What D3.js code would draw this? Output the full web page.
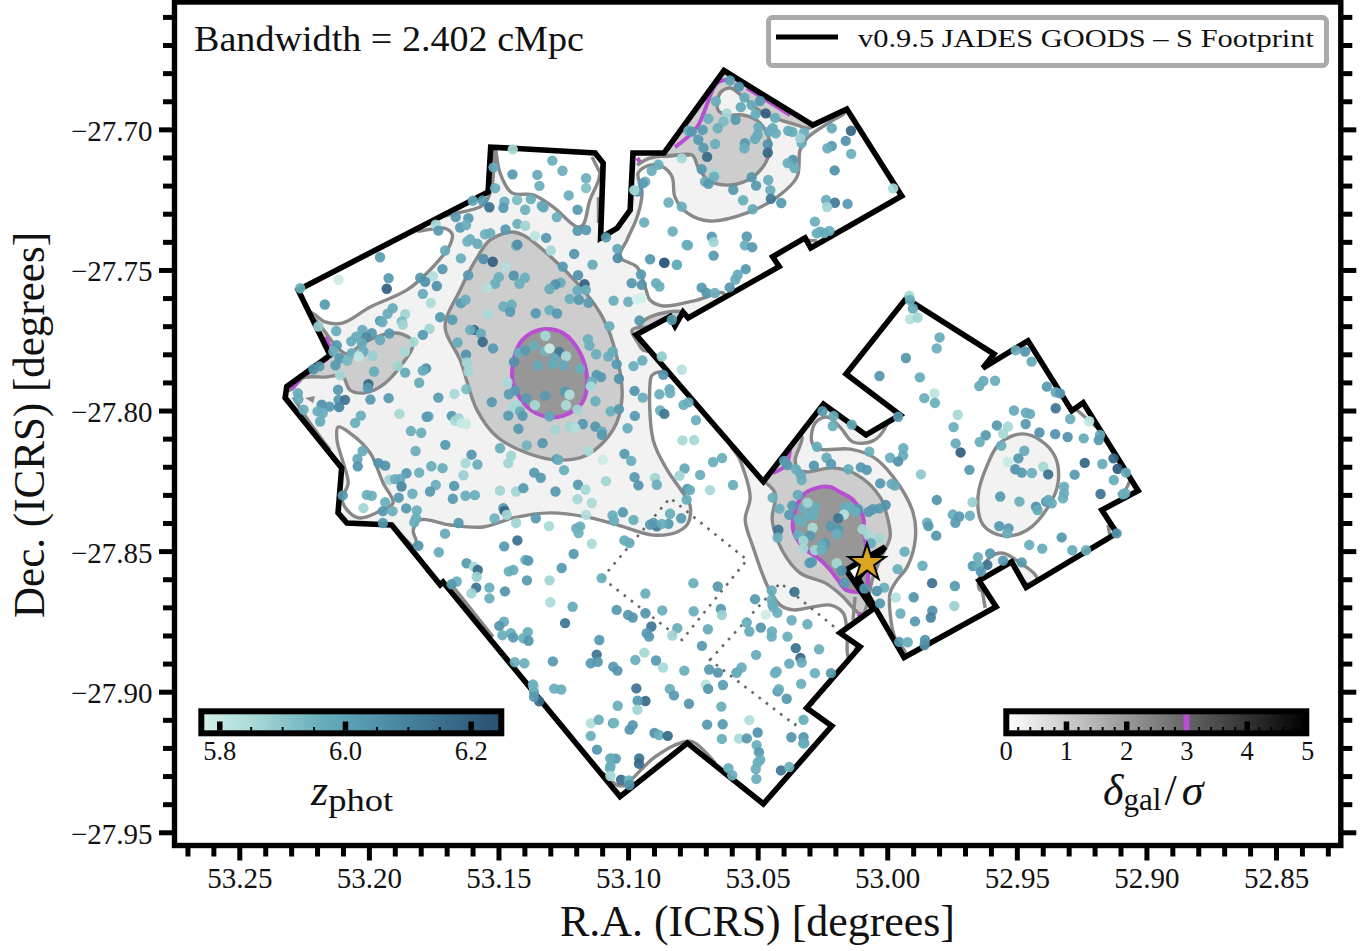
<!DOCTYPE html>
<html><head><meta charset="utf-8">
<script src="https://cdn.jsdelivr.net/npm/d3@7/dist/d3.min.js"></script>
<style>html,body{margin:0;padding:0;background:#fff}svg{display:block}text{font-family:"Liberation Serif",serif;fill:#111}</style>
</head><body><svg id="c" width="1370" height="951"></svg>
<script>
const raMajor=[53.25,53.20,53.15,53.10,53.05,53.00,52.95,52.90,52.85];
const decMajor=[-27.70,-27.75,-27.80,-27.85,-27.90,-27.95];
const zTicks=[5.8,6.0,6.2];
const deltaTicks=[0,1,2,3,4,5];
const zColorStops=[[5.775,"#d4f0ea"],[5.86,"#a6d9d6"],[5.96,"#69aebc"],[6.03,"#5699b0"],[6.13,"#3f7796"],[6.245,"#29506f"]];
const contourFills=["#f2f2f2","#cdcdcd","#979797"];

const footprint=[[53.2273,-27.7571],[53.1540,-27.7223],[53.1530,-27.7063],[53.1127,-27.7084],[53.1096,-27.7120],[53.1106,-27.7386],[53.1042,-27.7351],[53.0992,-27.7287],[53.0981,-27.7084],[53.0861,-27.7084],[53.0630,-27.6791],[53.0287,-27.6985],[53.0156,-27.6928],[52.9944,-27.7237],[53.0295,-27.7422],[53.0317,-27.7386],[53.0442,-27.7453],[53.0417,-27.7488],[53.0768,-27.7671],[53.0788,-27.7650],[53.0819,-27.7699],[53.0838,-27.7666],[53.0969,-27.7731],[53.0478,-27.8253],[53.0246,-27.7977],[53.0082,-27.8087],[52.9950,-27.8016],[53.0159,-27.7870],[52.9927,-27.7601],[52.9588,-27.7799],[52.9631,-27.7849],[52.9457,-27.7752],[52.9288,-27.8001],[52.9244,-27.7972],[52.9032,-27.8285],[52.9172,-27.8354],[52.9114,-27.8436],[52.9464,-27.8629],[52.9520,-27.8538],[52.9646,-27.8605],[52.9580,-27.8698],[52.9935,-27.8878],[53.0113,-27.8596],[53.0008,-27.8485],[53.0159,-27.8567],[53.0055,-27.8706],[53.0182,-27.8791],[53.0105,-27.8840],[53.0311,-27.9058],[53.0214,-27.9122],[53.0478,-27.9399],[53.0771,-27.9183],[53.1031,-27.9373],[53.1714,-27.8610],[53.1725,-27.8620],[53.1912,-27.8407],[53.2085,-27.8400],[53.2119,-27.8364],[53.2105,-27.8204],[53.2323,-27.7955],[53.2317,-27.7915],[53.2150,-27.7803]];

const lightMain=[[53.2219,-27.7653],[53.2169,-27.7685],[53.2103,-27.7689],[53.1995,-27.7632],[53.1853,-27.7571],[53.1764,-27.7500],[53.1687,-27.7411],[53.1679,-27.7372],[53.1710,-27.7351],[53.1814,-27.7361],[53.1718,-27.7312],[53.1559,-27.7269],[53.1529,-27.7216],[53.1517,-27.7127],[53.1513,-27.7066],[53.1494,-27.7155],[53.1448,-27.7226],[53.1366,-27.7233],[53.1289,-27.7276],[53.1197,-27.7347],[53.1174,-27.7340],[53.1147,-27.7251],[53.1116,-27.7187],[53.1096,-27.7127],[53.1062,-27.7127],[53.1039,-27.7073],[53.0954,-27.7020],[53.0722,-27.6753],[53.0221,-27.6878],[53.0163,-27.6938],[53.0209,-27.6967],[53.0309,-27.7031],[53.0336,-27.7073],[53.0348,-27.7169],[53.0425,-27.7241],[53.0541,-27.7297],[53.0684,-27.7326],[53.0772,-27.7297],[53.0819,-27.7241],[53.0830,-27.7169],[53.0865,-27.7134],[53.0915,-27.7127],[53.0961,-27.7155],[53.0946,-27.7226],[53.0965,-27.7312],[53.1004,-27.7393],[53.1031,-27.7454],[53.0965,-27.7490],[53.0934,-27.7561],[53.0915,-27.7607],[53.0865,-27.7628],[53.0734,-27.7607],[53.0633,-27.7582],[53.0626,-27.7625],[53.0761,-27.7714],[53.0876,-27.7749],[53.0761,-27.7874],[53.0772,-27.7916],[53.0865,-27.7863],[53.0907,-27.7874],[53.0915,-27.7902],[53.0903,-27.8105],[53.0849,-27.8211],[53.0788,-27.8293],[53.0761,-27.8336],[53.0768,-27.8400],[53.0811,-27.8432],[53.0903,-27.8443],[53.1042,-27.8407],[53.1158,-27.8379],[53.1301,-27.8364],[53.1444,-27.8382],[53.1559,-27.8414],[53.1687,-27.8407],[53.1802,-27.8389],[53.1829,-27.8425],[53.1818,-27.8471],[53.1860,-27.8489],[53.1995,-27.8460],[53.2150,-27.8389],[53.2362,-27.7962],[53.2362,-27.7891],[53.2265,-27.7642]];
const lightEast=[[53.0008,-27.8062],[53.0055,-27.8108],[53.0132,-27.8112],[53.0182,-27.8059],[53.0232,-27.8023],[53.0278,-27.8044],[53.0290,-27.8115],[53.0259,-27.8137],[53.0143,-27.8137],[53.0055,-27.8165],[52.9977,-27.8236],[52.9900,-27.8364],[52.9892,-27.8460],[52.9923,-27.8556],[52.9962,-27.8603],[52.9989,-27.8649],[52.9989,-27.8720],[52.9970,-27.8809],[52.9931,-27.8859],[52.9931,-27.8923],[53.0047,-27.8816],[53.0124,-27.8905],[53.0151,-27.8876],[53.0155,-27.8791],[53.0170,-27.8720],[53.0220,-27.8692],[53.0363,-27.8709],[53.0413,-27.8692],[53.0460,-27.8628],[53.0518,-27.8485],[53.0548,-27.8389],[53.0529,-27.8307],[53.0568,-27.8176],[53.0606,-27.8105],[53.0375,-27.7945],[53.0105,-27.7980],[52.9989,-27.7998]];
const lightOval=[[52.9480,-27.8083],[52.9565,-27.8115],[52.9611,-27.8187],[52.9650,-27.8307],[52.9630,-27.8407],[52.9553,-27.8446],[52.9460,-27.8425],[52.9379,-27.8343],[52.9341,-27.8258],[52.9352,-27.8165],[52.9410,-27.8105]];
const lightSouthEast=[[52.9642,-27.8585],[52.9603,-27.8521],[52.9553,-27.8507],[52.9487,-27.8542],[52.9422,-27.8596],[52.9449,-27.8656],[52.9518,-27.8567],[52.9642,-27.8638]];
const pocketWest=[[53.2119,-27.8059],[53.2123,-27.8105],[53.2100,-27.8183],[53.2080,-27.8258],[53.2103,-27.8318],[53.2073,-27.8364],[53.2034,-27.8382],[53.1965,-27.8361],[53.1907,-27.8329],[53.1945,-27.8258],[53.1995,-27.8151],[53.2073,-27.8080]];

const midMain=[[53.1448,-27.7365],[53.1532,-27.7393],[53.1583,-27.7457],[53.1648,-27.7571],[53.1706,-27.7703],[53.1648,-27.7820],[53.1583,-27.7998],[53.1505,-27.8094],[53.1390,-27.8151],[53.1274,-27.8176],[53.1158,-27.8158],[53.1058,-27.8069],[53.1023,-27.7952],[53.1058,-27.7760],[53.1108,-27.7653],[53.1197,-27.7546],[53.1351,-27.7411],[53.1405,-27.7376]];
const midWest=[[53.1829,-27.7760],[53.1872,-27.7728],[53.1937,-27.7728],[53.2022,-27.7760],[53.2084,-27.7799],[53.2130,-27.7767],[53.2181,-27.7706],[53.2219,-27.7671],[53.2285,-27.7785],[53.2362,-27.7909],[53.2304,-27.7927],[53.2254,-27.7884],[53.2169,-27.7881],[53.2103,-27.7877],[53.2073,-27.7927],[53.2022,-27.7938],[53.1957,-27.7916],[53.1880,-27.7845]];
const midNorth=[[53.0876,-27.7091],[53.0838,-27.7002],[53.0630,-27.6760],[53.0278,-27.6967],[53.0298,-27.6995],[53.0348,-27.6985],[53.0479,-27.6942],[53.0556,-27.6885],[53.0606,-27.6853],[53.0645,-27.6871],[53.0653,-27.6931],[53.0618,-27.6949],[53.0556,-27.6949],[53.0491,-27.6977],[53.0452,-27.7049],[53.0464,-27.7109],[53.0518,-27.7169],[53.0606,-27.7198],[53.0691,-27.7180],[53.0730,-27.7134],[53.0753,-27.7091]];
const midEast=[[53.0510,-27.8211],[53.0433,-27.8293],[53.0444,-27.8389],[53.0406,-27.8496],[53.0336,-27.8578],[53.0240,-27.8613],[53.0170,-27.8663],[53.0132,-27.8702],[53.0097,-27.8727],[53.0074,-27.8674],[53.0058,-27.8603],[53.0028,-27.8531],[52.9989,-27.8450],[52.9997,-27.8389],[53.0028,-27.8307],[53.0116,-27.8229],[53.0209,-27.8204],[53.0309,-27.8218],[53.0344,-27.8211],[53.0355,-27.8176],[53.0329,-27.8094],[53.0355,-27.8069]];
const midStrip=[[53.0954,-27.7696],[53.0915,-27.7667],[53.0788,-27.7650],[53.0761,-27.7685],[53.0954,-27.7756]];
const midWedge=[[53.0985,-27.7714],[53.0961,-27.7760],[53.0942,-27.7785],[53.0876,-27.7795],[53.0772,-27.7874],[53.0703,-27.7909],[53.0876,-27.7714]];

const highMain=[[53.1320,-27.7710],[53.1251,-27.7724],[53.1185,-27.7795],[53.1158,-27.7891],[53.1177,-27.7973],[53.1251,-27.8019],[53.1312,-27.8023],[53.1390,-27.7987],[53.1444,-27.7902],[53.1444,-27.7831],[53.1417,-27.7760],[53.1366,-27.7721]];
const highEast=[[53.0220,-27.8272],[53.0271,-27.8275],[53.0325,-27.8300],[53.0355,-27.8354],[53.0363,-27.8425],[53.0325,-27.8485],[53.0259,-27.8531],[53.0220,-27.8567],[53.0190,-27.8603],[53.0159,-27.8638],[53.0082,-27.8638],[53.0074,-27.8592],[53.0082,-27.8478],[53.0089,-27.8436],[53.0093,-27.8379],[53.0132,-27.8318],[53.0182,-27.8290]];
const highSpot=[[53.2246,-27.7955],[53.2208,-27.7948],[53.2215,-27.7973]];

const edgeContours=[
[[53.2292,-27.7952],[53.2227,-27.8044],[53.2150,-27.8140]],
[[53.1907,-27.8414],[53.1829,-27.8485]],
[[53.1687,-27.8613],[53.1521,-27.8805]],
[[53.1096,-27.9289],[53.1042,-27.9332],[53.1011,-27.9332],[53.0981,-27.9307],[53.0896,-27.9232],[53.0788,-27.9179],[53.0749,-27.9179],[53.0664,-27.9253]],
[[52.9268,-27.7998],[52.9167,-27.8080]],
[[52.9063,-27.8247],[52.9082,-27.8283],[52.9109,-27.8300]],
[[52.9148,-27.8407],[52.9140,-27.8450]],
[[52.9634,-27.8638],[52.9622,-27.8702]],
[[53.0124,-27.8663],[53.0132,-27.8745]],
[[53.1139,-27.7098],[53.1104,-27.7162]],
[[53.1114,-27.7241],[53.1114,-27.7333]],
[[53.0313,-27.7394],[53.0271,-27.7397]],
[[53.0965,-27.7127],[53.0915,-27.7102],[53.0761,-27.7091]]];

const sigma3Edges=[
[[53.2304,-27.7923],[53.2265,-27.7891]],
[[53.2246,-27.7874],[53.2227,-27.7863]],
[[53.2177,-27.7827],[53.2158,-27.7813]],
[[53.2169,-27.7738],[53.2150,-27.7774]],
[[53.0965,-27.7102],[53.0954,-27.7116]],
[[53.0819,-27.7063],[53.0734,-27.6992],[53.0656,-27.6835],[53.0606,-27.6824]],
[[53.0541,-27.6853],[53.0375,-27.6949]],
[[53.0903,-27.7785],[53.0772,-27.7866]],
[[53.0375,-27.8140],[53.0392,-27.8195],[53.0441,-27.8222]],
[[53.0113,-27.8734],[53.0097,-27.8720]],
[[53.0124,-27.8841],[53.0113,-27.8852]],
[[52.9468,-27.8613],[52.9457,-27.8620]]];

const dottedFields=[
[[53.1100,-27.8596],[53.0838,-27.8311],[53.0541,-27.8531],[53.0792,-27.8816]],
[[53.0684,-27.8887],[53.0413,-27.8613],[53.0105,-27.8844],[53.0356,-27.9118]]];
const starPoint=[53.0078,-27.8542];

const galaxiesWest=[[53.1445,-27.7071,5.86],[53.1519,-27.7135,5.97],[53.1292,-27.7111,5.96],[53.1253,-27.7147,5.96],[53.1446,-27.7160,6.03],[53.1350,-27.7162,5.97],[53.1162,-27.7174,5.96],[53.1342,-27.7201,5.96],[53.1162,-27.7209,5.92],[53.1513,-27.7209,5.96],[53.1229,-27.7235,5.96],[53.1599,-27.7254,5.98],[53.1561,-27.7253,6.03],[53.1477,-27.7257,5.96],[53.1428,-27.7251,5.93],[53.1375,-27.7248,5.96],[53.1535,-27.7277,6.15],[53.1481,-27.7279,6.03],[53.1397,-27.7286,5.95],[53.1333,-27.7272,5.97],[53.1326,-27.7277,5.98],[53.1195,-27.7286,6.03],[53.1275,-27.7312,5.96],[53.1665,-27.7312,6.03],[53.1616,-27.7316,6.03],[53.1648,-27.7349,6.02],[53.1625,-27.7340,5.96],[53.1742,-27.7339,5.86],[53.1732,-27.7360,6.03],[53.1427,-27.7336,5.96],[53.1397,-27.7343,5.87],[53.1473,-27.7356,6.03],[53.1195,-27.7361,6.03],[53.1162,-27.7358,6.03],[53.1552,-27.7373,5.95],[53.1532,-27.7369,5.96],[53.1609,-27.7391,5.96],[53.1620,-27.7399,5.95],[53.1581,-27.7407,5.97],[53.1359,-27.7379,5.82],[53.1316,-27.7386,6.03],[53.1432,-27.7414,5.94],[53.1427,-27.7410,6.06],[53.1298,-27.7431,5.86],[53.1706,-27.7431,5.97],[53.1957,-27.7455,6.02],[53.1085,-27.7384,6.03],[53.1041,-27.7425,5.98],[53.1040,-27.7458,6.07],[53.1645,-27.7459,5.96],[53.1208,-27.7443,6.04],[53.1558,-27.7461,6.06],[53.1522,-27.7471,6.2],[53.1137,-27.7481,5.97],[53.1252,-27.7488,6.03],[53.1473,-27.7490,5.84],[53.1716,-27.7497,6.03],[53.1924,-27.7529,6.03],[53.2117,-27.7535,5.79],[53.1931,-27.7567,6.2],[53.1802,-27.7528,6.03],[53.1753,-27.7523,5.84],[53.1783,-27.7542,6.05],[53.1738,-27.7557,6.05],[53.1792,-27.7585,5.97],[53.1617,-27.7519,6.03],[53.1499,-27.7526,5.96],[53.1441,-27.7520,6.05],[53.1398,-27.7528,5.96],[53.1193,-27.7519,6.05],[53.1513,-27.7549,5.96],[53.1419,-27.7549,5.96],[53.1545,-27.7564,5.84],[53.1168,-27.7551,6.2],[53.1260,-27.7545,5.97],[53.1281,-27.7552,6.05],[53.1303,-27.7568,5.97],[53.1195,-27.7573,5.97],[53.1163,-27.7571,5.96],[53.2265,-27.7565,5.96],[53.0986,-27.7547,6.03],[53.0947,-27.7553,6.04],[53.0892,-27.7547,5.96],[53.0879,-27.7559,5.96],[53.0950,-27.7516,6.02],[53.0860,-27.7474,6.2],[53.0915,-27.7462,6.03],[53.0812,-27.7482,5.96],[53.0938,-27.7331,5.96],[53.0828,-27.7363,5.96],[53.0774,-27.7411,5.96],[53.0844,-27.7260,5.96],[53.0793,-27.7275,5.96],[53.0964,-27.7221,6.03],[53.0934,-27.7186,5.96],[53.0943,-27.7192,6.02],[53.0909,-27.7147,5.96],[53.0883,-27.7126,5.96],[53.0793,-27.7103,5.86],[53.2170,-27.7623,6.03],[53.1761,-27.7617,5.85],[53.1056,-27.7609,5.96],[53.0999,-27.7613,5.96],[53.0966,-27.7604,5.78],[53.0947,-27.7600,5.78],[53.1225,-27.7603,5.96],[53.1190,-27.7606,6.03],[53.1153,-27.7617,6.03],[53.1645,-27.7618,6.03],[53.1627,-27.7606,5.96],[53.1481,-27.7630,5.96],[53.1449,-27.7624,5.96],[53.1455,-27.7649,6.03],[53.1356,-27.7654,6.03],[53.1303,-27.7643,5.96],[53.1274,-27.7655,6.03],[53.1541,-27.7657,5.86],[53.0956,-27.7680,6.03],[53.0831,-27.7677,6.03],[53.1908,-27.7636,5.97],[53.1928,-27.7656,5.97],[53.1860,-27.7657,5.87],[53.1725,-27.7668,6.03],[53.1678,-27.7677,6.03],[53.1957,-27.7681,6.03],[53.1948,-27.7685,5.96],[53.1873,-27.7683,5.93],[53.1869,-27.7695,5.87],[53.1072,-27.7700,5.96],[53.2195,-27.7701,5.89],[53.2126,-27.7717,5.96],[53.1766,-27.7709,5.87],[53.2025,-27.7713,5.97],[53.1594,-27.7713,6.17],[53.1609,-27.7713,5.96],[53.1568,-27.7727,5.97],[53.1792,-27.7731,6.03],[53.1989,-27.7725,6.03],[53.2011,-27.7739,6.08],[53.2049,-27.7737,5.97],[53.1921,-27.7726,6.03],[53.2068,-27.7754,5.97],[53.1957,-27.7749,5.97],[53.2027,-27.7760,5.97],[53.1561,-27.7756,6.17],[53.1658,-27.7758,5.97],[53.1155,-27.7746,5.96],[53.1149,-27.7769,5.96],[53.1828,-27.7756,5.86],[53.1319,-27.7734,5.86],[53.2124,-27.7768,6.03],[53.2066,-27.7796,5.96],[53.2021,-27.7790,5.97],[53.2137,-27.7790,5.96],[53.2113,-27.7814,6.03],[53.2039,-27.7808,5.81],[53.1985,-27.7805,5.88],[53.1861,-27.7791,5.86],[53.1521,-27.7779,6.03],[53.1625,-27.7801,6.05],[53.1423,-27.7794,5.96],[53.1397,-27.7786,6.03],[53.1362,-27.7769,5.96],[53.1321,-27.7788,5.94],[53.1303,-27.7779,5.79],[53.1265,-27.7792,6.12],[53.1285,-27.7814,5.97],[53.1239,-27.7807,5.85],[53.1123,-27.7800,5.96],[53.1076,-27.7808,5.96],[53.1059,-27.7790,5.97],[53.0945,-27.7822,5.96],[53.0870,-27.7808,5.89],[53.1440,-27.7827,6.05],[53.1622,-27.7829,5.87],[53.1044,-27.7835,6.03],[53.1290,-27.7835,5.97],[53.1249,-27.7839,5.97],[53.1348,-27.7839,5.98],[53.2129,-27.7839,6.03],[53.2083,-27.7822,5.94],[53.2191,-27.7843,6.03],[53.2214,-27.7853,6.05],[53.1888,-27.7841,5.87],[53.1185,-27.7852,5.96],[53.0979,-27.7842,5.96],[53.0793,-27.7855,5.83],[53.0864,-27.7873,6.04],[53.1616,-27.7861,5.87],[53.1980,-27.7861,5.97],[53.1779,-27.7850,6.05],[53.1792,-27.7858,5.97],[53.1860,-27.7865,5.97],[53.2111,-27.7875,5.86],[53.1121,-27.7873,6.03],[53.1104,-27.7881,6.03],[53.1035,-27.7887,6.05],[53.1465,-27.7900,5.86],[53.1140,-27.7897,5.96],[53.1144,-27.7914,5.86],[53.1806,-27.7901,5.97],[53.2002,-27.7906,6.18],[53.2004,-27.7920,6.03],[53.1436,-27.7929,6.03],[53.1624,-27.7924,5.93],[53.2119,-27.7926,6.03],[53.2274,-27.7938,5.97],[53.0975,-27.7930,6.04],[53.0840,-27.7924,5.96],[53.0838,-27.7938,5.96],[53.0879,-27.7942,5.96],[53.1243,-27.7932,6.03],[53.1226,-27.7944,5.84],[53.1460,-27.7942,6.02],[53.1670,-27.7941,5.86],[53.1320,-27.7947,6.03],[53.1732,-27.7954,6.02],[53.1393,-27.7956,6.03],[53.1924,-27.7956,6.03],[53.1994,-27.7961,6.03],[53.2117,-27.7962,6.03],[53.2092,-27.7962,6.14],[53.2272,-27.7960,5.97],[53.1526,-27.7970,6.03],[53.0943,-27.7954,5.96],[53.1126,-27.7967,5.96],[53.1359,-27.7981,5.86],[53.1239,-27.7981,5.85],[53.1429,-27.7980,5.86],[53.1442,-27.7988,5.86],[53.2182,-27.7979,6.05],[53.2152,-27.7986,6.03],[53.2115,-27.7988,6.09],[53.2252,-27.7997,5.96],[53.0786,-27.7980,5.96],[53.0767,-27.7971,5.96],[53.1067,-27.8003,5.96],[53.1035,-27.7995,6.03],[53.0876,-27.8000,5.96],[53.1195,-27.7997,5.87],[53.2198,-27.8003,5.96],[53.2178,-27.8009,5.96],[53.1417,-27.8003,5.96],[53.0860,-27.8012,6.14],[53.0974,-27.8019,6.03],[53.1303,-27.8021,5.98],[53.1407,-27.8019,6.03],[53.1882,-27.8012,5.86],[53.1680,-27.8019,6.03],[53.1462,-27.8018,6.03],[53.2031,-27.8018,5.96],[53.1770,-27.8021,5.96],[53.1777,-27.8022,6.03],[53.1667,-27.8037,5.85],[53.1654,-27.8028,5.87],[53.1642,-27.8045,5.8],[53.1626,-27.8047,5.8],[53.2188,-27.8039,5.97],[53.2053,-27.8044,5.96],[53.1175,-27.8048,6.04],[53.1126,-27.8057,6.04],[53.1002,-27.8063,5.96],[53.1224,-27.8057,5.87],[53.1204,-27.8063,5.84],[53.1423,-27.8065,6.03],[53.1281,-27.8069,5.87],[53.1101,-27.8074,5.96],[53.1101,-27.8086,6.03],[53.1838,-27.8073,5.96],[53.1798,-27.8079,5.96],[53.0790,-27.8106,5.86],[53.1330,-27.8116,6.04],[53.1705,-27.8122,6.03],[53.1494,-27.8134,5.96],[53.1391,-27.8124,5.95],[53.1153,-27.8143,5.85],[53.1014,-27.8154,6.03],[53.2024,-27.8144,5.97],[53.1820,-27.8144,5.96],[53.1604,-27.8157,6.04],[53.1451,-27.8161,5.87],[53.2044,-27.8172,5.98],[53.1275,-27.8173,6.03],[53.1269,-27.8175,5.96],[53.0988,-27.8179,5.96],[53.1098,-27.8175,5.79],[53.1963,-27.8187,6.05],[53.1937,-27.8196,6.05],[53.2043,-27.8198,6.04],[53.1627,-27.8187,5.86],[53.1462,-27.8187,5.87],[53.1581,-27.8192,5.96],[53.1759,-27.8198,5.96],[53.1716,-27.8205,5.96],[53.1247,-27.8212,5.96],[53.0782,-27.8206,5.98],[53.1362,-27.8221,6.03],[53.1855,-27.8223,6.03],[53.1806,-27.8221,5.96],[53.1635,-27.8230,5.88],[53.0802,-27.8232,5.87],[53.0975,-27.8237,6.03],[53.0896,-27.8240,5.87],[53.0889,-27.8264,5.96],[53.1921,-27.8246,5.87],[53.1899,-27.8244,5.96],[53.1879,-27.8243,5.97],[53.1085,-27.8251,5.87],[53.1337,-27.8239,6.03],[53.1193,-27.8264,6.03],[53.0960,-27.8266,6.04],[53.1874,-27.8270,6.08],[53.1742,-27.8265,5.96],[53.1671,-27.8268,6.03],[53.1764,-27.8288,6.03],[53.1832,-27.8296,5.96],[53.1494,-27.8285,5.87],[53.1432,-27.8288,5.87],[53.1404,-27.8276,6.03],[53.1164,-27.8281,5.86],[53.1280,-27.8288,6.03],[53.0771,-27.8279,6.05],[53.2008,-27.8300,5.96],[53.1989,-27.8303,5.96],[53.2101,-27.8302,6.03],[53.1885,-27.8310,6.03],[53.1627,-27.8303,5.96],[53.1591,-27.8301,5.96],[53.1676,-27.8314,6.03],[53.0774,-27.8317,5.96],[53.1195,-27.8315,5.86],[53.1937,-27.8326,5.96],[53.1140,-27.8329,5.85],[53.2021,-27.8347,5.87],[53.1856,-27.8348,6.03],[53.1815,-27.8355,5.96],[53.1946,-27.8358,6.03],[53.1909,-27.8358,5.96],[53.0838,-27.8367,5.96],[53.1481,-27.8347,6.03],[53.1477,-27.8357,6.17],[53.1468,-27.8371,5.87],[53.1020,-27.8362,6.03],[53.1162,-27.8371,5.84],[53.1060,-27.8373,5.96],[53.1818,-27.8383,5.96],[53.1356,-27.8383,6.03],[53.1515,-27.8384,5.95],[53.1054,-27.8392,5.96],[53.0979,-27.8389,5.96],[53.0795,-27.8383,6.03],[53.1825,-27.8398,5.96],[53.1654,-27.8400,6.03],[53.1432,-27.8400,5.87],[53.0844,-27.8403,6.03],[53.1946,-27.8400,6.03],[53.0915,-27.8406,6.03],[53.0889,-27.8412,6.12],[53.0902,-27.8400,6.03],[53.0870,-27.8403,5.96],[53.1305,-27.8411,5.86],[53.1185,-27.8412,5.96],[53.1200,-27.8419,5.96],[53.1191,-27.8436,5.95],[53.1706,-27.8438,5.97],[53.1427,-27.8462,6.15],[53.1140,-27.8474,5.85],[53.1014,-27.8462,5.97],[53.0995,-27.8471,5.97],[53.1478,-27.8483,6.03],[53.1809,-27.8481,6.04],[53.0738,-27.8034,5.96],[53.0745,-27.8105,5.86],[53.0672,-27.8183,5.96],[53.0637,-27.8169,5.96],[53.0722,-27.8229,5.96],[53.0761,-27.8283,5.96],[53.0684,-27.8283,5.86],[53.0595,-27.8265,5.96]];

const galaxiesNorth=[[53.0607,-27.6826,6.0],[53.0572,-27.6848,6.05],[53.0661,-27.6900,5.96],[53.0551,-27.6887,5.97],[53.0491,-27.6899,6.03],[53.0523,-27.6914,5.97],[53.0565,-27.6921,5.97],[53.0508,-27.6946,5.97],[53.0469,-27.6943,6.2],[53.0619,-27.6943,5.86],[53.0690,-27.6962,5.96],[53.0585,-27.6966,6.03],[53.0433,-27.6959,5.96],[53.0632,-27.6972,5.93],[53.0654,-27.6996,5.96],[53.0712,-27.7002,6.03],[53.0497,-27.6992,5.97],[53.0767,-27.7005,5.97],[53.0754,-27.7008,6.03],[53.0442,-27.6996,5.97],[53.0456,-27.7008,5.97],[53.0430,-27.7014,5.96],[53.0382,-27.7005,5.97],[53.0366,-27.7009,5.97],[53.0321,-27.7011,5.96],[53.0500,-27.7020,5.97],[53.0729,-27.7037,6.03],[53.0510,-27.7034,5.97],[53.0549,-27.7049,6.03],[53.0551,-27.7067,5.96],[53.0664,-27.7052,5.96],[53.0709,-27.7066,6.03],[53.0461,-27.7053,6.05],[53.0330,-27.7049,5.96],[53.0336,-27.7031,5.88],[53.0214,-27.6996,5.97],[53.0140,-27.7005,6.18],[53.0160,-27.7041,6.05],[53.0214,-27.7059,6.03],[53.0231,-27.7067,5.96],[53.0461,-27.7083,6.18],[53.0139,-27.7087,5.96],[53.0695,-27.7098,6.17],[53.0364,-27.7109,6.05],[53.0384,-27.7120,5.96],[53.0358,-27.7138,5.96],[53.0203,-27.7146,6.05],[53.0716,-27.7142,6.03],[53.0668,-27.7158,5.86],[53.0668,-27.7168,5.96],[53.0523,-27.7170,6.04],[53.0459,-27.7180,5.96],[53.0703,-27.7186,5.96],[53.0690,-27.7194,6.03],[53.0506,-27.7200,6.03],[53.0594,-27.7215,6.03],[53.0451,-27.7216,5.96],[53.0976,-27.7216,5.86],[52.9977,-27.7210,5.86],[53.0556,-27.7252,5.96],[53.0449,-27.7247,6.12],[53.0409,-27.7262,6.03],[53.0236,-27.7251,5.96],[53.0202,-27.7261,6.12],[53.0153,-27.7265,6.03],[53.0232,-27.7276,5.87],[53.0519,-27.7284,5.97],[53.0279,-27.7328,5.96],[53.0223,-27.7361,5.96],[53.0259,-27.7364,5.97],[53.0272,-27.7370,5.96],[53.0243,-27.7369,5.97],[53.0542,-27.7381,6.03],[53.0677,-27.7382,6.03],[53.0670,-27.7401,5.87],[53.0769,-27.7412,5.96],[53.0549,-27.7412,5.96],[53.0521,-27.7419,6.03],[53.0670,-27.7449,6.03],[53.0860,-27.7475,6.2],[53.0811,-27.7481,5.96],[53.0546,-27.7497,6.03],[53.0577,-27.7517,5.97],[53.0586,-27.7534,5.97],[53.0716,-27.7563,6.03],[53.0697,-27.7582,6.04],[53.0608,-27.7562,6.03],[53.0665,-27.7582,5.96]];

const galaxiesEast=[[52.9915,-27.7592,5.86],[52.9912,-27.7607,5.96],[52.9901,-27.7637,5.97],[52.9912,-27.7675,5.83],[52.9883,-27.7669,5.87],[52.9798,-27.7740,5.97],[52.9809,-27.7779,5.96],[52.9928,-27.7813,6.04],[53.0030,-27.7877,6.04],[52.9874,-27.7882,5.97],[52.9857,-27.7956,5.96],[52.9818,-27.7939,5.82],[52.9816,-27.7973,5.96],[52.9504,-27.7786,5.96],[52.9468,-27.7790,6.04],[52.9443,-27.7826,5.97],[52.9645,-27.7913,5.97],[52.9629,-27.7895,5.97],[52.9584,-27.7894,5.96],[52.9384,-27.7915,6.03],[52.9350,-27.7935,5.97],[52.9333,-27.7939,6.03],[52.9350,-27.7992,6.14],[52.9511,-27.8000,5.97],[52.9465,-27.8008,5.97],[52.9449,-27.8012,5.97],[52.9294,-27.8030,5.96],[52.9221,-27.8038,5.81],[52.9466,-27.8048,6.03],[52.9577,-27.8053,6.03],[52.9534,-27.8057,5.86],[52.9728,-27.8015,5.86],[52.9744,-27.8059,5.96],[52.9958,-27.8022,6.03],[53.0250,-27.8002,6.03],[53.0207,-27.8019,5.97],[53.0210,-27.8055,5.96],[53.0137,-27.8050,5.97],[52.9553,-27.8082,5.86],[52.9620,-27.8088,6.03],[52.9413,-27.8078,6.05],[52.9352,-27.8084,6.05],[52.9304,-27.8094,6.05],[52.9242,-27.8099,5.97],[52.9179,-27.8087,5.97],[52.9184,-27.8105,6.03],[52.9736,-27.8117,5.97],[52.9643,-27.8112,5.96],[52.9560,-27.8125,5.96],[52.9717,-27.8149,6.2],[53.0271,-27.8129,5.97],[53.0069,-27.8146,5.96],[52.9938,-27.8134,5.96],[52.9939,-27.8160,5.97],[52.9989,-27.8168,5.96],[52.9958,-27.8181,6.05],[52.9471,-27.8143,5.97],[52.9494,-27.8170,6.03],[52.9535,-27.8182,5.8],[52.9238,-27.8186,6.18],[52.9127,-27.8170,6.18],[52.9170,-27.8190,5.97],[52.9111,-27.8207,6.22],[52.9398,-27.8200,5.86],[53.0234,-27.8168,5.97],[53.0283,-27.8196,6.04],[53.0217,-27.8190,6.03],[53.0398,-27.8179,6.03],[53.0385,-27.8194,6.03],[53.0150,-27.8209,5.97],[53.0102,-27.8202,6.03],[53.0079,-27.8211,6.03],[52.9683,-27.8211,6.03],[52.9506,-27.8209,6.05],[52.9481,-27.8221,6.03],[52.9442,-27.8222,5.96],[52.9379,-27.8227,6.15],[52.9870,-27.8227,5.9],[52.9277,-27.8228,6.03],[52.9079,-27.8221,5.96],[53.0352,-27.8209,5.96],[53.0334,-27.8229,5.97],[53.0330,-27.8247,5.96],[52.9126,-27.8247,5.96],[53.0027,-27.8259,6.03],[52.9983,-27.8261,5.97],[52.9970,-27.8267,5.97],[52.9318,-27.8271,5.96],[52.9177,-27.8297,6.14],[52.9318,-27.8294,5.96],[52.9091,-27.8298,5.97],[52.9082,-27.8294,5.96],[52.9322,-27.8312,5.96],[53.0442,-27.8310,5.96],[52.9564,-27.8306,6.03],[53.0345,-27.8300,5.97],[52.9809,-27.8318,6.04],[52.9490,-27.8324,5.96],[52.9671,-27.8326,5.88],[52.9387,-27.8324,6.04],[52.9365,-27.8330,5.97],[52.9378,-27.8318,5.97],[52.9426,-27.8342,6.05],[52.9420,-27.8354,5.97],[53.0006,-27.8336,6.05],[53.0031,-27.8348,6.03],[53.0056,-27.8351,6.03],[53.0072,-27.8360,6.03],[53.0416,-27.8349,5.96],[53.0366,-27.8338,6.03],[53.0321,-27.8348,5.96],[53.0279,-27.8342,5.96],[53.0308,-27.8328,5.87],[53.0163,-27.8345,5.97],[53.0144,-27.8344,5.96],[53.0112,-27.8351,6.03],[53.0124,-27.8360,5.96],[53.0285,-27.8371,5.96],[53.0304,-27.8374,5.96],[53.0378,-27.8371,6.03],[52.9747,-27.8370,5.97],[52.9722,-27.8377,6.03],[52.9681,-27.8374,5.96],[52.9737,-27.8399,6.03],[53.0167,-27.8370,5.83],[53.0189,-27.8383,6.14],[53.0343,-27.8386,5.96],[53.0330,-27.8396,5.96],[52.9846,-27.8399,5.96],[52.9841,-27.8411,6.03],[53.0218,-27.8411,6.03],[53.0189,-27.8422,6.03],[53.0288,-27.8417,5.85],[53.0420,-27.8424,6.14],[53.0095,-27.8422,5.86],[53.0194,-27.8439,5.96],[52.9811,-27.8445,6.04],[52.9568,-27.8411,6.03],[52.9532,-27.8419,6.03],[52.9537,-27.8437,5.96],[53.0423,-27.8452,5.96],[53.0343,-27.8441,5.96],[53.0298,-27.8445,6.03],[53.0073,-27.8443,5.86],[53.0030,-27.8454,5.87],[52.9327,-27.8451,6.03],[53.0324,-27.8463,5.87],[53.0063,-27.8472,5.97],[53.0240,-27.8472,6.03],[53.0253,-27.8478,5.97],[52.9452,-27.8478,5.96],[52.9402,-27.8491,5.97],[52.9286,-27.8497,5.97],[52.9233,-27.8497,5.96],[53.0324,-27.8491,5.86],[53.0279,-27.8496,5.87],[53.0253,-27.8496,5.96],[52.9603,-27.8508,6.03],[52.9933,-27.8502,5.96],[52.9650,-27.8522,5.96],[53.0195,-27.8543,5.86],[52.9481,-27.8540,6.03],[52.9553,-27.8534,6.03],[52.9614,-27.8549,6.14],[52.9670,-27.8553,6.03],[52.9647,-27.8554,5.96],[53.0291,-27.8539,6.03],[53.0300,-27.8542,6.03],[52.9960,-27.8564,5.96],[52.9864,-27.8552,5.96],[52.9639,-27.8573,6.03],[53.0176,-27.8569,6.05],[52.9827,-27.8614,6.15],[53.0164,-27.8612,6.03],[52.9739,-27.8624,6.03],[53.0012,-27.8630,5.96],[53.0088,-27.8633,6.04],[53.0040,-27.8642,6.05],[53.0446,-27.8640,5.96],[53.0358,-27.8645,6.15],[52.9898,-27.8664,6.04],[52.9967,-27.8665,5.83],[53.0510,-27.8671,6.03],[53.0446,-27.8673,5.96],[53.0443,-27.8691,5.96],[53.0028,-27.8686,6.03],[53.0439,-27.8700,5.96],[53.0424,-27.8719,5.96],[53.0469,-27.8726,5.79],[52.9741,-27.8695,5.88],[52.9826,-27.8712,6.05],[52.9949,-27.8722,5.96],[52.9832,-27.8736,6.1],[52.9893,-27.8750,6.03],[53.0542,-27.8754,5.96],[53.0369,-27.8746,5.96],[53.0308,-27.8760,5.96],[53.0488,-27.8772,6.04],[53.0532,-27.8786,5.97],[53.0445,-27.8786,5.96],[53.0446,-27.8804,5.96],[53.0385,-27.8804,5.96],[52.9854,-27.8816,6.05],[52.9954,-27.8823,6.03],[52.9921,-27.8824,5.96],[52.9856,-27.8834,6.05],[53.0353,-27.8845,6.15],[53.0263,-27.8849,5.96],[53.0506,-27.8869,5.97],[53.0335,-27.8880,6.18],[53.0378,-27.8900,5.97],[53.0330,-27.8896,5.96],[53.0562,-27.8914,5.96],[53.0427,-27.8928,5.96],[53.0433,-27.8934,5.96],[53.0279,-27.8934,5.96],[53.0217,-27.8934,6.03],[52.9115,-27.8437,6.04]];

const galaxiesSouth=[[53.1730,-27.8504,5.97],[53.1623,-27.8543,6.03],[53.1595,-27.8555,5.86],[53.1580,-27.8567,6.16],[53.1584,-27.8591,5.88],[53.1443,-27.8567,5.97],[53.1460,-27.8572,5.96],[53.1396,-27.8531,5.96],[53.1385,-27.8534,6.03],[53.1256,-27.8560,6.03],[53.1210,-27.8510,6.03],[53.1102,-27.8596,5.96],[53.1661,-27.8608,5.96],[53.1681,-27.8618,6.03],[53.1586,-27.8630,6.14],[53.1535,-27.8630,5.96],[53.1604,-27.8650,5.87],[53.1475,-27.8643,6.04],[53.1390,-27.8604,6.03],[53.1303,-27.8604,5.87],[53.1535,-27.8668,5.96],[53.1300,-27.8682,5.85],[53.1214,-27.8698,5.97],[53.0933,-27.8651,5.96],[53.0748,-27.8614,5.96],[53.0654,-27.8626,6.03],[53.1044,-27.8709,6.03],[53.0933,-27.8721,6.04],[53.0868,-27.8711,5.96],[53.0747,-27.8714,5.96],[53.0642,-27.8706,6.03],[53.0638,-27.8727,5.88],[53.1000,-27.8727,6.03],[53.0982,-27.8736,6.04],[53.0910,-27.8768,6.14],[53.0810,-27.8774,5.96],[53.0928,-27.8792,6.03],[53.0919,-27.8804,6.03],[53.0829,-27.8800,5.87],[53.0692,-27.8778,5.97],[53.1479,-27.8751,5.97],[53.1497,-27.8766,6.04],[53.1243,-27.8756,6.14],[53.1452,-27.8792,5.96],[53.1387,-27.8788,5.97],[53.1485,-27.8799,5.96],[53.1443,-27.8807,6.03],[53.1404,-27.8810,5.96],[53.1384,-27.8819,6.04],[53.1111,-27.8816,6.03],[53.0715,-27.8837,6.03],[53.1121,-27.8868,6.14],[53.0937,-27.8861,5.86],[53.1437,-27.8895,5.96],[53.1400,-27.8899,5.96],[53.1290,-27.8892,6.03],[53.1144,-27.8899,6.03],[53.1117,-27.8894,6.03],[53.0972,-27.8887,5.96],[53.0892,-27.8889,6.03],[53.1057,-27.8911,6.03],[53.1041,-27.8925,6.04],[53.0865,-27.8914,5.86],[53.0783,-27.8925,5.96],[53.0687,-27.8921,6.03],[53.0653,-27.8932,6.04],[53.0581,-27.8932,6.05],[53.0581,-27.8932,5.96],[53.0700,-27.8975,5.83],[53.0634,-27.8976,6.02],[53.1363,-27.8984,5.86],[53.1285,-27.8989,5.96],[53.1258,-27.8992,5.96],[53.0839,-27.8990,5.96],[53.0691,-27.8990,6.04],[53.1363,-27.8984,5.84],[53.1367,-27.8974,5.96],[53.0968,-27.8988,6.14],[53.0933,-27.9033,6.17],[53.1363,-27.9003,5.97],[53.1343,-27.9034,6.16],[53.0963,-27.9032,6.03],[53.1363,-27.9018,6.03],[53.0964,-27.9064,5.87],[53.1040,-27.9050,5.96],[53.0823,-27.9013,6.03],[53.0765,-27.9043,6.04],[53.1143,-27.9112,5.84],[53.1058,-27.9112,6.03],[53.1113,-27.9100,5.96],[53.0982,-27.9119,6.03],[53.0898,-27.9147,6.05],[53.0880,-27.9154,5.96],[53.1054,-27.9111,5.94],[53.0994,-27.9135,6.04],[53.0695,-27.9117,6.03],[53.0635,-27.9116,6.03],[53.1144,-27.9157,5.96],[53.0847,-27.9157,6.17],[53.0638,-27.9168,5.96],[53.0572,-27.9167,5.85],[53.0542,-27.9166,6.03],[53.0500,-27.9145,6.05],[53.0532,-27.9101,5.84],[53.0640,-27.9053,5.96],[53.0370,-27.9162,6.04],[53.0323,-27.9184,5.96],[53.0320,-27.9183,5.96],[53.0504,-27.9190,5.96],[53.0495,-27.9215,6.03],[53.1120,-27.9206,6.04],[53.1062,-27.9238,6.04],[53.1047,-27.9238,6.02],[53.0490,-27.9242,5.96],[53.0500,-27.9252,5.96],[53.1068,-27.9265,5.96],[53.0957,-27.9237,6.14],[53.1069,-27.9237,5.96],[53.1070,-27.9272,5.96],[53.0958,-27.9256,6.17],[53.0613,-27.9272,5.96],[53.0507,-27.9275,5.96],[53.1068,-27.9300,5.86],[53.1027,-27.9313,6.15],[53.0997,-27.9316,5.96],[53.0995,-27.9332,6.05],[53.0598,-27.9297,5.96],[53.0505,-27.9310,5.96],[53.0410,-27.9280,6.14],[53.0378,-27.9268,5.96],[53.0323,-27.9162,6.04],[53.0323,-27.9183,5.96],[53.0323,-27.9100,5.96],[53.0388,-27.9025,6.03],[53.0423,-27.8999,6.03],[53.0418,-27.8991,5.96],[53.0332,-27.8972,5.96]];

const allGalaxies=[...galaxiesWest,...galaxiesNorth,...galaxiesEast,...galaxiesSouth];

const svg=d3.select("#c");
const x=d3.scaleLinear().domain([53.2750,52.8250]).range([174.5,1340.8]);
const y=d3.scaleLinear().domain([-27.6547,-27.9547]).range([2,845.5]);
const zScale=d3.scaleLinear().domain([5.7757,6.245]).range([204,499]);
const dScale=d3.scaleLinear().domain([0,5]).range([1005.7,1307]);
const zColor=d3.scaleLinear().domain(zColorStops.map(d=>d[0])).range(zColorStops.map(d=>d[1])).clamp(true);
const smooth=d3.line().x(d=>x(d[0])).y(d=>y(d[1])).curve(d3.curveCatmullRomClosed.alpha(0.5));
const poly=d3.line().x(d=>x(d[0])).y(d=>y(d[1])).curve(d3.curveLinearClosed);
const open=d3.line().x(d=>x(d[0])).y(d=>y(d[1])).curve(d3.curveCatmullRom.alpha(0.5));

const defs=svg.append("defs");
defs.append("clipPath").attr("id","fp").append("path").attr("d",poly(footprint));
const map=svg.append("g").attr("clip-path","url(#fp)");
const gray="#888888",mag="#b84fd2";
function region(data,fill,stroke,w){map.append("path").attr("d",smooth(data)).attr("fill",fill).attr("stroke",stroke).attr("stroke-width",w).attr("stroke-linejoin","round");}
[lightMain,lightEast,lightOval,lightSouthEast].forEach(d=>region(d,contourFills[0],gray,3.4));
region(pocketWest,"#fff",gray,3.4);
[midMain,midWest,midNorth,midEast,midStrip,midWedge].forEach(d=>region(d,contourFills[1],gray,3.4));
map.append("path").attr("d",poly(highSpot)).attr("fill","#8a8a8a");
[highMain,highEast].forEach(d=>region(d,contourFills[2],mag,4));
edgeContours.forEach(d=>map.append("path").attr("d",open(d)).attr("fill","none").attr("stroke",gray).attr("stroke-width",3.4));
sigma3Edges.forEach(d=>map.append("path").attr("d",open(d)).attr("fill","none").attr("stroke",mag).attr("stroke-width",4));

dottedFields.forEach(d=>svg.append("path").attr("d",poly(d)).attr("fill","none").attr("stroke","#666").attr("stroke-width",2.6).attr("stroke-dasharray","2.6 6.4"));
svg.append("path").attr("d",poly(footprint)).attr("fill","none").attr("stroke","#000").attr("stroke-width",5.6).attr("stroke-linejoin","miter");

svg.append("g").selectAll("circle").data(allGalaxies).join("circle")
 .attr("cx",d=>x(d[0])).attr("cy",d=>y(d[1])).attr("r",5.2)
 .attr("fill",d=>zColor(d[2])).attr("opacity",0.93);

svg.append("path").attr("d",d3.symbol().type(d3.symbolStar).size(430)())
 .attr("transform",`translate(${x(starPoint[0])},${y(starPoint[1])})`)
 .attr("fill","#DAA520").attr("stroke","#000").attr("stroke-width",2);

svg.append("rect").attr("x",174.5).attr("y",2).attr("width",1166.3).attr("height",843.5).attr("fill","none").attr("stroke","#000").attr("stroke-width",5.4);

const raMinor=d3.range(5283,5328).map(v=>v/100).filter(v=>!raMajor.includes(v));
const decMinor=d3.range(66,96).map(i=>+(-27-i*0.01).toFixed(2)).filter(v=>!decMajor.includes(v));
function ticks(axis,tx,ty,w){const g=svg.append("g").attr("transform",`translate(${tx},${ty})`).call(axis);
 g.select(".domain").remove();g.selectAll("line").attr("stroke","#000").attr("stroke-width",w);return g;}
const bx=()=>d3.axisBottom(x).tickSizeOuter(0);
const ly=()=>d3.axisLeft(y).tickSizeOuter(0);
const ry=()=>d3.axisRight(y).tickSizeOuter(0);
ticks(bx().tickValues(raMinor).tickSize(11).tickFormat(""),0,845.5,5);
const bMaj=ticks(bx().tickValues(raMajor).tickSize(15).tickFormat(d3.format(".2f")),0,845.5,5);
bMaj.selectAll("text").attr("y",42.5).attr("dy",0).attr("font-size",29).attr("font-family","Liberation Serif").attr("fill","#111");
ticks(ly().tickValues(decMinor).tickSize(11.5).tickFormat(""),174.5,0,5);
const lMaj=ticks(ly().tickValues(decMajor).tickSize(15.5).tickFormat(d=>"\u2212"+Math.abs(d).toFixed(2)),174.5,0,5);
lMaj.selectAll("text").attr("x",-22).attr("dy",11).attr("font-size",29).attr("font-family","Liberation Serif").attr("fill","#111");
ticks(ry().tickValues(decMinor).tickSize(11.5).tickFormat(""),1340.8,0,5);
ticks(ry().tickValues(decMajor).tickSize(15.5).tickFormat(""),1340.8,0,5);

svg.append("text").attr("x",560).attr("y",936).attr("font-size",44).attr("textLength",395).attr("lengthAdjust","spacingAndGlyphs").text("R.A. (ICRS) [degrees]");
svg.append("text").attr("transform","translate(44,618) rotate(-90)").attr("font-size",44).attr("textLength",386).attr("lengthAdjust","spacingAndGlyphs").text("Dec. (ICRS) [degrees]");
svg.append("text").attr("x",194).attr("y",51).attr("font-size",36).attr("textLength",390).attr("lengthAdjust","spacingAndGlyphs").text("Bandwidth = 2.402 cMpc");

svg.append("rect").attr("x",768.5).attr("y",17.5).attr("width",558).attr("height",48).attr("rx",4).attr("fill","#fff").attr("stroke","#aaa").attr("stroke-width",5);
svg.append("line").attr("x1",776).attr("x2",838).attr("y1",37).attr("y2",37).attr("stroke","#000").attr("stroke-width",5);
svg.append("text").attr("x",858).attr("y",47).attr("font-size",26).attr("textLength",456).attr("lengthAdjust","spacingAndGlyphs").text("v0.9.5 JADES GOODS \u2013 S Footprint");

const gz=defs.append("linearGradient").attr("id","gz");
d3.range(0,21).forEach(i=>{const t=i/20;gz.append("stop").attr("offset",t).attr("stop-color",zColor(zScale.domain()[0]+t*(zScale.domain()[1]-zScale.domain()[0])));});
const gd=defs.append("linearGradient").attr("id","gd");
gd.append("stop").attr("offset",0).attr("stop-color","#fff");gd.append("stop").attr("offset",1).attr("stop-color","#000");

svg.append("rect").attr("x",201.3).attr("y",711.3).attr("width",300).attr("height",22).attr("fill","url(#gz)");
const zMinor=d3.range(5.8,6.25,0.05).map(v=>+v.toFixed(2)).filter(v=>!zTicks.includes(v));
ticks(d3.axisTop(zScale).tickValues(zMinor).tickSize(3.5).tickFormat("").tickSizeOuter(0),0,730.5,2);
ticks(d3.axisTop(zScale).tickValues(zTicks).tickSize(9).tickFormat("").tickSizeOuter(0),0,730.5,5.5);
svg.append("rect").attr("x",201.3).attr("y",711.3).attr("width",300).attr("height",22).attr("fill","none").attr("stroke","#000").attr("stroke-width",6);
const zl=ticks(d3.axisBottom(zScale).tickValues(zTicks).tickSize(0).tickFormat(d3.format(".1f")).tickSizeOuter(0),0,736,0);
zl.selectAll("text").attr("y",24).attr("dy",0).attr("font-size",26.5).attr("font-family","Liberation Serif").attr("fill","#111");

svg.append("rect").attr("x",1006.3).attr("y",711.3).attr("width",300).attr("height",22).attr("fill","url(#gd)");
const dMinor=d3.range(0.2,5,0.2).map(v=>+v.toFixed(1)).filter(v=>!deltaTicks.includes(v));
ticks(d3.axisTop(dScale).tickValues(dMinor).tickSize(3.5).tickFormat("").tickSizeOuter(0),0,730.5,2);
ticks(d3.axisTop(dScale).tickValues([1,2,4]).tickSize(9).tickFormat("").tickSizeOuter(0),0,730.5,5.5);
svg.append("rect").attr("x",dScale(3)-3).attr("y",714).attr("width",6).attr("height",17).attr("fill",mag);
svg.append("rect").attr("x",1006.3).attr("y",711.3).attr("width",300).attr("height",22).attr("fill","none").attr("stroke","#000").attr("stroke-width",6);
const dl=ticks(d3.axisBottom(dScale).tickValues(deltaTicks).tickSize(0).tickFormat(d3.format("d")).tickSizeOuter(0),0,736,0);
dl.selectAll("text").attr("y",24).attr("dy",0).attr("font-size",26.5).attr("font-family","Liberation Serif").attr("fill","#111");

const zt=svg.append("text").attr("x",311).attr("y",805);
zt.append("tspan").attr("font-size",44).attr("font-style","italic").text("z");
zt.append("tspan").attr("font-size",32).attr("dy",6).attr("textLength",65).attr("lengthAdjust","spacingAndGlyphs").text("phot");
const dt=svg.append("text").attr("x",1103).attr("y",805);
dt.append("tspan").attr("font-size",44).attr("font-style","italic").text("\u03b4");
dt.append("tspan").attr("font-size",32).attr("dy",5).attr("textLength",38).attr("lengthAdjust","spacingAndGlyphs").text("gal");
dt.append("tspan").attr("font-size",44).attr("dy",-5).attr("dx",3).text("/");
dt.append("tspan").attr("font-size",44).attr("font-style","italic").attr("dx",5).text("\u03c3");
</script></body></html>
